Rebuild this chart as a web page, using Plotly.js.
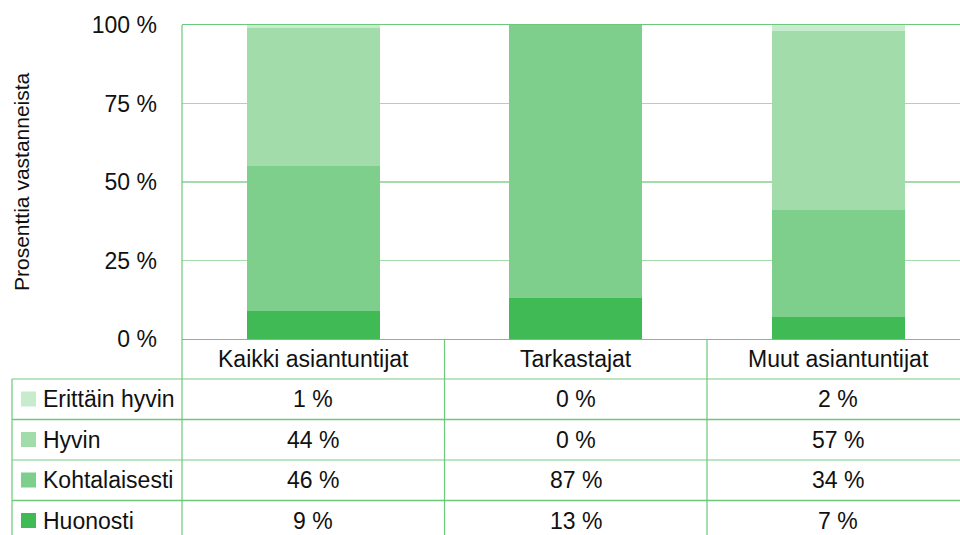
<!DOCTYPE html>
<html>
<head>
<meta charset="utf-8">
<script src="https://cdn.plot.ly/plotly-3.0.1.min.js"></script>
<style>html,body{margin:0;padding:0;background:#fff;}#chart{width:960px;height:535px;}</style>
</head>
<body>
<div id="chart"></div>
<script>
// ---- data ----
var categories = ['Kaikki asiantuntijat', 'Tarkastajat', 'Muut asiantuntijat'];
var seriesNames = ['Huonosti', 'Kohtalaisesti', 'Hyvin', 'Erittäin hyvin'];
var huonosti = [9, 13, 7];
var kohtalaisesti = [46, 87, 34];
var hyvin = [44, 0, 57];
var erittainHyvin = [1, 0, 2];
var yTickVals = [0, 25, 50, 75, 100];
var yTickText = ['0 %', '25 %', '50 %', '75 %', '100 %'];
var yTitle = 'Prosenttia vastanneista';

// ---- style ----
var colors = ['#3fba55', '#7dcf8b', '#a2dcaa', '#c7ebcd'];
var seriesValues = [huonosti, kohtalaisesti, hyvin, erittainHyvin];
var FONT = 'Liberation Sans, Arial, sans-serif';
var FS = 23;
var W = 960, H = 535, ML = 182, MT = 25, PB = 339;
var plotW = W - ML, plotH = PB - MT;
var catW = 262.5;
var xMin = -0.5, xMax = -0.5 + plotW / catW;
var lineCol = '#6cc87a', gridCol = '#a3dcab';

function px2py(p) { return (PB - p) / plotH; }
function px2px(p) { return (p - ML) / plotW; }
function d2px(v) { return (v - xMin) / (xMax - xMin); }

var xs = categories.map(function (c, i) { return i; });
var traces = seriesNames.map(function (name, k) {
  return {
    type: 'bar', name: name, x: xs, y: seriesValues[k],
    width: 0.507,
    marker: { color: colors[k], line: { width: 0 } },
    hoverinfo: 'skip', showlegend: false
  };
});

var shapes = [];
var annotations = [];
// table horizontal lines
var rowLinesPx = [379, 419.5, 460, 500.5];
var rowCentersPx = [399, 439.5, 480, 520.5];
rowLinesPx.forEach(function (p, i) {
  shapes.push({ type: 'line', xref: 'paper', yref: 'paper', x0: px2px(12), x1: px2px(W + 5),
    y0: px2py(p), y1: px2py(p), line: { color: i % 2 === 0 ? gridCol : lineCol, width: 1.3 } });
});
// left border of table
shapes.push({ type: 'line', xref: 'paper', yref: 'paper', x0: px2px(12), x1: px2px(12),
  y0: px2py(379), y1: px2py(H + 5), line: { color: lineCol, width: 1.2 } });
// left plot border extending down
shapes.push({ type: 'line', xref: 'paper', yref: 'paper', x0: 0, x1: 0,
  y0: 1, y1: px2py(H + 5), line: { color: lineCol, width: 1.2 } });
// category dividers
for (var i = 0; i < categories.length; i++) {
  var xv = i + 0.5;
  if (xv < xMax) {
    shapes.push({ type: 'line', xref: 'paper', yref: 'paper', x0: d2px(xv), x1: d2px(xv),
      y0: 0, y1: px2py(H + 5), line: { color: lineCol, width: 1.2 } });
  }
}
// header labels
categories.forEach(function (c, i) {
  annotations.push({ xref: 'x', yref: 'paper', x: i, y: px2py(359), text: c, showarrow: false,
    font: { family: FONT, size: FS, color: '#111' }, xanchor: 'center', yanchor: 'middle' });
});
// table rows: top to bottom = reversed series order
var rowOrder = [3, 2, 1, 0];
rowOrder.forEach(function (k, r) {
  var cy = rowCentersPx[r];
  shapes.push({ type: 'rect', xref: 'paper', yref: 'paper', x0: px2px(21), x1: px2px(36),
    y0: px2py(cy - 7.5), y1: px2py(cy + 7.5), fillcolor: colors[k], line: { width: 0 } });
  annotations.push({ xref: 'paper', yref: 'paper', x: px2px(41), y: px2py(cy), text: seriesNames[k],
    showarrow: false, xanchor: 'left', yanchor: 'middle', font: { family: FONT, size: FS, color: '#111' } });
  seriesValues[k].forEach(function (v, i) {
    annotations.push({ xref: 'x', yref: 'paper', x: i, y: px2py(cy), text: v + ' %', showarrow: false,
      xanchor: 'center', yanchor: 'middle', font: { family: FONT, size: FS, color: '#111' } });
  });
});
// y title
annotations.push({ xref: 'paper', yref: 'paper', x: px2px(21), y: px2py(182), text: yTitle, textangle: -90,
  showarrow: false, xanchor: 'center', yanchor: 'middle', font: { family: FONT, size: 21, color: '#111' } });

var layout = {
  width: W, height: H,
  margin: { l: ML, r: 0, t: MT, b: H - PB, pad: 0 },
  barmode: 'stack', bargap: 0,
  paper_bgcolor: '#fff', plot_bgcolor: '#fff',
  showlegend: false,
  xaxis: { range: [xMin, xMax], showticklabels: false, ticks: '', showgrid: false, zeroline: false,
    showline: true, mirror: true, linecolor: lineCol, linewidth: 1.3, fixedrange: true },
  yaxis: { range: [0, 100], tickvals: yTickVals, ticktext: yTickText, ticks: '', ticklabelstandoff: 24,
    tickfont: { family: FONT, size: FS, color: '#111' }, showgrid: true, gridcolor: gridCol, gridwidth: 1.3,
    zeroline: false, showline: false, fixedrange: true },
  shapes: shapes,
  annotations: annotations
};
Plotly.newPlot('chart', traces, layout, { displayModeBar: false, staticPlot: true });
</script>
</body>
</html>
